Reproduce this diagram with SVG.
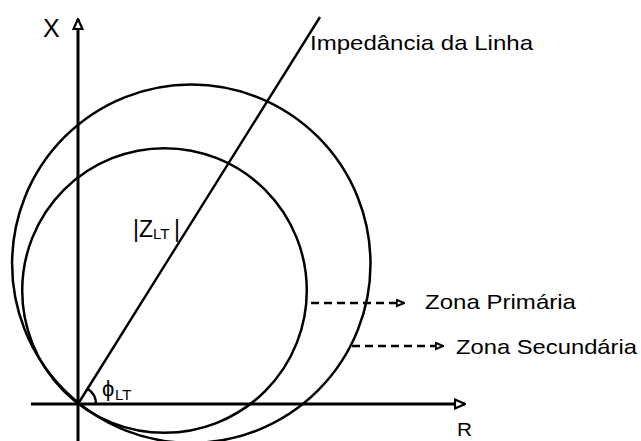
<svg xmlns="http://www.w3.org/2000/svg" width="641" height="441" viewBox="0 0 641 441">
<defs>
<style>
.ax{stroke:#000;stroke-width:3;fill:none}
.circ{stroke:#000;stroke-width:2.5;fill:none}
.ln{stroke:#000;stroke-width:2.4;fill:none}
.dash{stroke:#000;stroke-width:2.5;fill:none;stroke-dasharray:8,5}
.t{font-family:"Liberation Sans",Arial,sans-serif;fill:#000}
</style>
<marker id="ah" viewBox="0 0 12 12" refX="11" refY="6" markerWidth="12" markerHeight="12" markerUnits="userSpaceOnUse" orient="auto">
<path d="M1,1.5 L11,6 L1,10.5 Z" fill="#fff" stroke="#000" stroke-width="2.2"/>
</marker>
<marker id="ahs" viewBox="0 0 10 10" refX="9" refY="5" markerWidth="9" markerHeight="9" markerUnits="userSpaceOnUse" orient="auto">
<path d="M1,1.5 L9,5 L1,8.5 Z" fill="#fff" stroke="#000" stroke-width="2.2"/>
</marker>
</defs>
<rect width="641" height="441" fill="#fff"/>
<g id="axes">
<line class="ax" x1="78" y1="441" x2="78" y2="19" marker-end="url(#ah)"/>
<line class="ax" x1="31" y1="404" x2="465" y2="404" marker-end="url(#ah)"/>
<text class="t" x="43" y="37" font-size="25">X</text>
<text class="t" x="457" y="436" font-size="18" textLength="15" lengthAdjust="spacingAndGlyphs">R</text>
</g>
<g id="zona-secundaria-circle">
<circle class="circ" cx="191.3" cy="263.7" r="179.2"/>
</g>
<g id="zona-primaria-circle">
<circle class="circ" cx="164.5" cy="290.5" r="142.3"/>
</g>
<g id="linha">
<line class="ln" x1="78" y1="404" x2="320" y2="17"/>
<path class="ln" d="M96,404 A18,18 0 0 0 87.5,388.7"/>
<text class="t" x="102" y="396" font-size="22">ϕ</text>
<text class="t" x="115" y="400" font-size="15">LT</text>
<text class="t" x="133" y="237" font-size="23">|Z</text>
<text class="t" x="153" y="239" font-size="15">LT</text>
<text class="t" x="174" y="237" font-size="23">|</text>
<text class="t" x="310" y="50" font-size="21" textLength="223" lengthAdjust="spacingAndGlyphs">Impedância da Linha</text>
</g>
<g id="connectors">
<line class="dash" x1="311" y1="303" x2="404" y2="303" marker-end="url(#ahs)"/>
<line class="dash" x1="352" y1="346" x2="443" y2="346" marker-end="url(#ahs)"/>
</g>
<g id="labels">
<text class="t" x="425" y="309" font-size="21" textLength="151" lengthAdjust="spacingAndGlyphs">Zona Primária</text>
<text class="t" x="456" y="354" font-size="21" textLength="181" lengthAdjust="spacingAndGlyphs">Zona Secundária</text>
</g>
</svg>
